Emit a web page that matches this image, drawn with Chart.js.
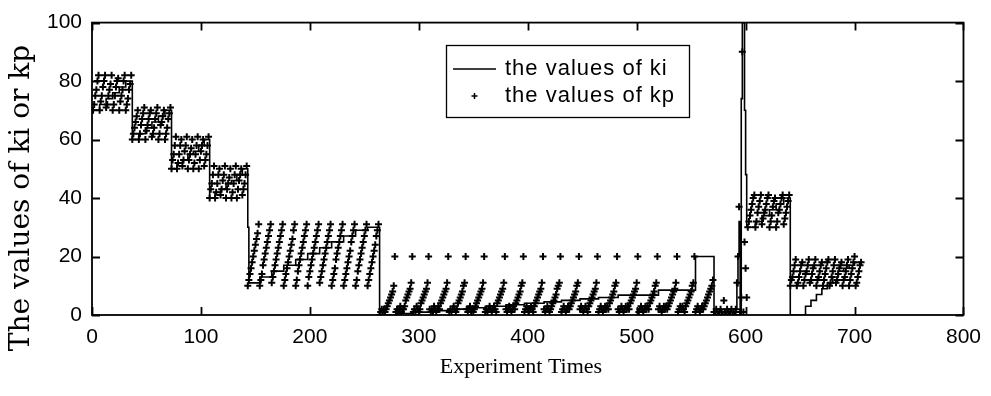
<!DOCTYPE html>
<html>
<head>
<meta charset="utf-8">
<script src="https://cdn.jsdelivr.net/npm/chart.js@4.4.1/dist/chart.umd.min.js"></script>
<style>
  html, body { margin: 0; padding: 0; background: #fff; }
  #wrap { width: 991px; height: 396px; }
</style>
</head>
<body>
<div id="wrap"><canvas id="chart" width="991" height="396"></canvas></div>
<script>
// ---- data ---------------------------------------------------------------
// experiment numbers start at 1, one kp value per experiment
const firstExperiment = 1;

const kpValues = [
  // 1-36 : kp swept 70..82
  70,72,75,77,80,82, 70,73,75,78,80,82, 71,72,75,77,79,82, 70,72,75,78,80,81, 70,73,75,77,80,82, 70,72,74,77,79,82,
  // 37-72 : 60..71
  60,62,64,66,68,70, 60,62,65,67,69,71, 60,63,65,67,69,70, 61,62,64,67,69,71, 60,62,65,66,68,70, 60,62,64,67,69,71,
  // 73-107 : 50..61
  50,53,55,58,61, 50,52,55,58,60, 51,53,56,58,61, 50,53,55,57,60, 50,52,55,58,61, 50,53,56,58,60, 51,53,55,58,61,
  // 108-142 : 40..51
  40,43,45,48,51, 40,42,45,48,50, 41,43,46,48,51, 40,43,45,47,50, 40,42,45,48,51, 40,43,46,48,50, 41,43,45,48,51,
  // 143-263 : 10..31 sweeps
  10,12,14,16,18,20,22,24,26,28,31,
  10,12,14,17,19,21,23,25,27,29,31,
  11,13,15,17,19,21,23,25,27,29,31,
  10,12,14,16,18,20,22,24,26,29,31,
  10,12,15,17,19,21,23,25,27,29,31,
  10,13,15,17,19,21,23,25,27,29,31,
  11,13,15,17,19,21,23,25,27,29,31,
  10,12,14,16,19,21,23,25,27,29,31,
  10,12,14,16,18,20,22,25,27,29,31,
  10,12,15,17,19,21,23,25,27,29,31,
  10,12,14,16,18,20,22,24,27,29,31,
  // 264-589 : low values, short climbs to ~11, one point at 20 per round
  0,1,2,1,2,1,2, 3,4,5,6,7,8,10, 20,
  1,2,1,2,3,1,2,2, 3,5,6,7,8,9,11, 20,
  1,2,1,3,2,1,2, 4,5,6,7,8,9,11, 20,
  2,1,2,1,3,2,1,2,3,2, 4,5,6,7,8,9,11, 20,
  1,2,1,2,3,2,1,2, 4,5,6,7,8,10,11, 20,
  2,1,2,3,1,2,1,2,3, 4,5,6,7,8,9,11, 20,
  1,2,1,2,3,2,1,2,3,2,1, 4,5,6,7,8,9,11, 20,
  2,1,2,3,2,1,2,3,2, 4,5,6,7,8,10,11, 20,
  1,2,3,2,1,2,3,2,1,3, 4,5,6,7,8,9,11, 20,
  2,1,2,3,2,1,2,3, 4,5,6,7,9,10,11, 20,
  1,2,3,2,1,2,3,2,3, 4,5,6,7,8,10,11, 20,
  2,3,2,1,2,3,2,1,3, 4,5,6,7,8,9,11, 20,
  1,2,3,2,1,2,3,2,3,2, 4,5,6,7,8,10,11, 20,
  2,1,2,3,2,1,2,3,2,3,2, 4,5,6,7,8,9,11, 20,
  1,2,3,2,1,2,3,2,3,2, 4,5,6,7,8,10,11, 20,
  2,3,2,1,2,3,2,3,2,3, 4,5,6,7,8,9,11, 20,
  1,2,3,2,3,2,1,3, 4,5,6,7,8,10,11, 20,
  1,2,3,2,1,2,3,2,3, 4,5,6,7,8,9,10,12,
  1,0,2,1,0,1,2,1,0,5,1,0,2,1,0,1,2,0,1,
  // 590-601 : the spike
  0,2,11,20,37,1,6,90,1,25,16,6,
  // 602-640 : 30..41
  30,32,34,36,38,40,41, 30,32,35,37,39,41, 31,33,35,36,38,40,41, 30,32,34,37,39,40, 30,32,35,36,38,40,41, 31,33,35,37,39,41,
  // 641-706 : 10..19
  10,12,13,15,17,19, 10,11,13,15,17,18, 10,12,14,15,17,19, 11,12,14,16,17,19, 10,12,13,15,17,18, 10,12,14,16,18,19,
  10,11,13,15,17,19, 11,12,14,16,17,18, 10,12,13,15,17,19, 10,12,14,16,18,20, 10,11,13,15,17,18
];

// ki only changes between runs, so keep the experiment where each new level starts
const kiChangeX = [
  1,7,13,19,25,31, 37,43,49,55,61,67, 73,78,83,88,93,98,103, 108,113,118,123,128,133,138,
  143,144,154,165,176,187,198,209,220,231,242,253,
  264,279,295,310,328,344,361,380,397,415,431,448,465,483,520,554,571,
  590,591,592,593,594,595,596,597,598,599,600,601,
  609,615,622,628,635,
  641,655,660,665,670,675,680,685,690,695,700,706
];
const kiChangeY = [
  70,72,74,76,78,80, 60,62,64,66,68,70, 50,52,53,55,56,58,60, 40,42,43,45,46,48,50,
  30,11,13,15,17,19,21,23,25,27,29,30,
  0,0.5,1,1.5,2,2.5,3,3.5,4,4.5,5,5.5,6,6.8,8.5,20,0,
  0,2,10,20,32,0,74,100,100,70,48,30,
  32,34,36,38,40,
  0,3,5,7,9,11,13,15,16,17,18,18
];

const xTickValues = [0, 100, 200, 300, 400, 500, 600, 700, 800];
const yTickValues = [0, 20, 40, 60, 80, 100];
const legendLabels = ['the values of ki', 'the values of kp'];
const xTitle = 'Experiment Times';
const yTitle = 'The values of ki or kp';

// ---- MATLAB-ish box, inward ticks, legend and titles ---------------------
const matlabFrame = {
  id: 'matlabFrame',
  afterDatasetsDraw(chart) {
    const { ctx, chartArea: a, scales } = chart;
    const x = scales.x, y = scales.y;
    const tick = 8;
    ctx.save();
    ctx.strokeStyle = '#000';
    ctx.lineWidth = 1.8;
    ctx.strokeRect(a.left, a.top, a.right - a.left, a.bottom - a.top);

    ctx.beginPath();
    xTickValues.forEach(v => {
      const px = Math.round(x.getPixelForValue(v)) + 0.5;
      ctx.moveTo(px, a.bottom); ctx.lineTo(px, a.bottom - tick);
      ctx.moveTo(px, a.top); ctx.lineTo(px, a.top + tick);
    });
    yTickValues.forEach(v => {
      const py = Math.round(y.getPixelForValue(v)) + 0.5;
      ctx.moveTo(a.left, py); ctx.lineTo(a.left + tick, py);
      ctx.moveTo(a.right, py); ctx.lineTo(a.right - tick, py);
    });
    ctx.stroke();

    // legend box
    const box = { left: 446, top: 45, right: 689, bottom: 117 };
    ctx.fillStyle = '#fff';
    ctx.fillRect(box.left, box.top, box.right - box.left, box.bottom - box.top);
    ctx.lineWidth = 1.3;
    ctx.strokeRect(box.left + 0.5, box.top + 0.5, box.right - box.left, box.bottom - box.top);

    const row1 = 69, row2 = 96;
    ctx.lineWidth = 1.5;
    ctx.beginPath();
    ctx.moveTo(453, row1); ctx.lineTo(496, row1);
    ctx.moveTo(474.5, row2 - 3); ctx.lineTo(474.5, row2 + 3);
    ctx.moveTo(471.5, row2); ctx.lineTo(477.5, row2);
    ctx.stroke();

    ctx.fillStyle = '#000';
    ctx.font = '22px "Liberation Sans", Arial, sans-serif';
    if ('letterSpacing' in ctx) ctx.letterSpacing = '1px';
    ctx.textBaseline = 'middle';
    ctx.textAlign = 'left';
    ctx.fillText(legendLabels[0], 505, row1);
    ctx.fillText(legendLabels[1], 505, row2);
    ctx.restore();
  },
  afterDraw(chart) {
    const { ctx } = chart;
    ctx.save();
    ctx.fillStyle = '#000';
    ctx.textAlign = 'center';
    ctx.textBaseline = 'middle';
    ctx.font = '22px "Liberation Serif", "Times New Roman", serif';
    ctx.fillText(xTitle, 521, 367);

    ctx.translate(22, 198);
    ctx.rotate(-Math.PI / 2);
    ctx.font = '28px "DejaVu Serif", serif';
    ctx.fillText(yTitle, 0, 0);
    ctx.restore();
  }
};

const tickFont = { family: '"Liberation Sans", Arial, sans-serif', size: 21 };

new Chart(document.getElementById('chart'), {
  type: 'scatter',
  data: {
    datasets: [
      {
        label: legendLabels[0],
        data: kiChangeX.map((xv, i) => ({ x: xv, y: kiChangeY[i] })),
        showLine: true,
        stepped: true,
        borderColor: '#000',
        borderWidth: 1.6,
        pointRadius: 0,
        fill: false
      },
      {
        label: legendLabels[1],
        data: kpValues.map((v, i) => ({ x: firstExperiment + i, y: v })),
        showLine: false,
        pointStyle: 'cross',
        pointRadius: 3.5,
        borderColor: '#000',
        backgroundColor: '#000',
        pointBorderWidth: 2
      }
    ]
  },
  options: {
    responsive: false,
    animation: false,
    events: [],
    devicePixelRatio: 1,
    layout: { padding: { top: 20, right: 18, left: 0, bottom: 0 } },
    plugins: {
      legend: { display: false },
      tooltip: { enabled: false }
    },
    scales: {
      x: {
        type: 'linear',
        min: 0,
        max: 800,
        grid: { display: false, drawTicks: false },
        border: { display: false },
        ticks: { stepSize: 100, color: '#000', font: tickFont, padding: 10, maxRotation: 0, autoSkip: false },
        afterFit: s => { s.height = 81; }
      },
      y: {
        min: 0,
        max: 100,
        grid: { display: false, drawTicks: false },
        border: { display: false },
        ticks: { stepSize: 20, color: '#000', font: tickFont, padding: 10 },
        afterFit: s => { s.width = 92; }
      }
    }
  },
  plugins: [matlabFrame]
});
</script>
</body>
</html>
